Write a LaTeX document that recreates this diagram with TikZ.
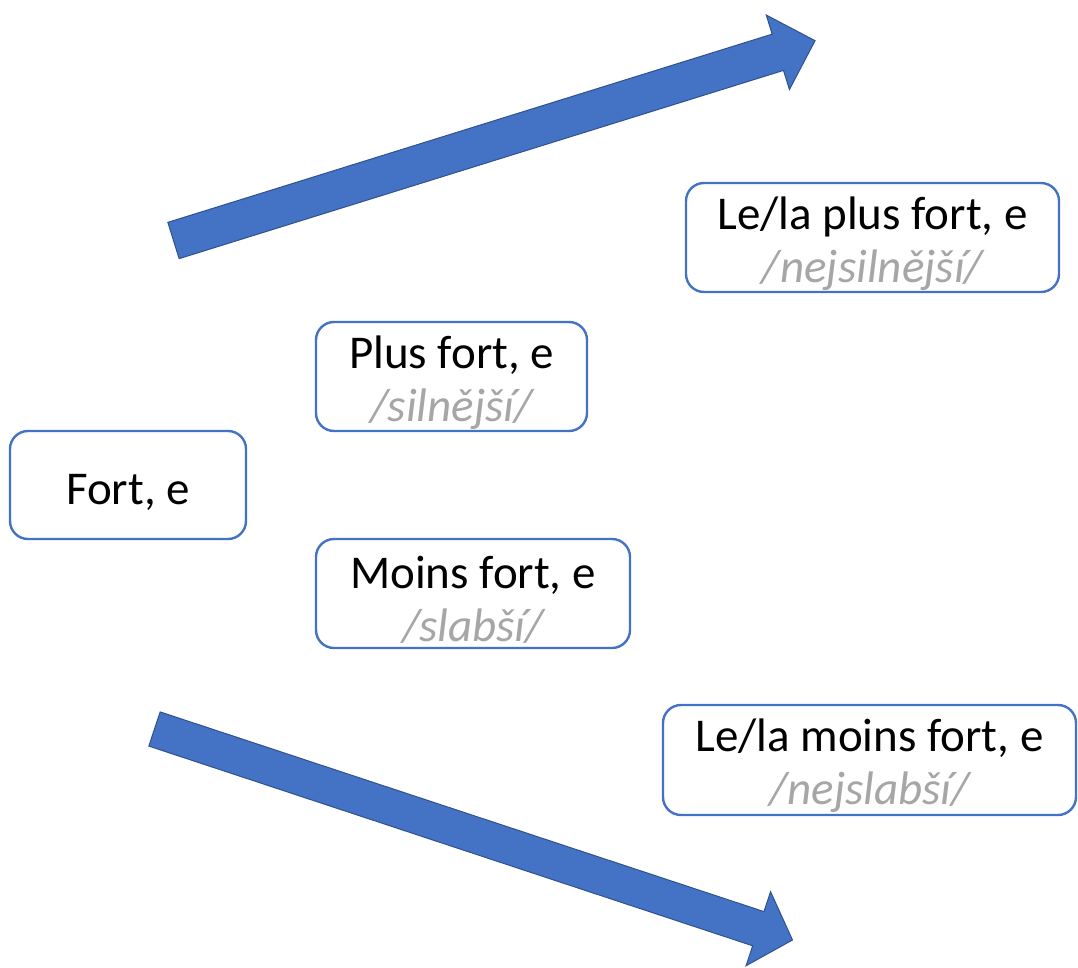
\documentclass[tikz,border=0pt]{standalone}
\usepackage{fontspec}
\setmainfont{Carlito}
\definecolor{boxblue}{HTML}{4472C4}
\definecolor{arrowedge}{HTML}{2F528F}
\definecolor{glossgray}{HTML}{A6A6A6}
\tikzset{
  termbox/.style={draw=boxblue, line width=2.4pt, rounded corners=18pt, fill=white,
    align=center, inner sep=0pt, font=\fontsize{47}{55}\selectfont},
  bigarrow/.style={fill=boxblue, draw=arrowedge, line width=1pt, line join=miter},
}
\newcommand{\gloss}[1]{\textcolor{glossgray}{\itshape #1}}
% extra room above the first line pushes the text block slightly down in its box
\newcommand{\toppad}{\rule{0pt}{45pt}}
\begin{document}
\begin{tikzpicture}[x=1pt, y=-1pt]
  \useasboundingbox (0,0) rectangle (1078,968);

  % rising arrow
  \begin{scope}[shift={(173.5,240.5)}, rotate=17.3]
    \draw[bigarrow] (0,-19) -- (633,-19) -- (633,-39) -- (672,0) -- (633,39) -- (633,19) -- (0,19) -- cycle;
  \end{scope}
  % falling arrow
  \begin{scope}[shift={(154.5,729)}, rotate=-18.3]
    \draw[bigarrow] (0,-18) -- (636,-18) -- (636,-39) -- (672,0) -- (636,39) -- (636,18) -- (0,18) -- cycle;
  \end{scope}

  % word forms
  \node[termbox, minimum width=236pt, minimum height=108pt] (fort) at (128,485) {\toppad Fort, e};
  \node[termbox, minimum width=271pt, minimum height=109pt] (plus) at (451.5,376.5)
    {\toppad Plus fort, e\\[-2pt]\gloss{/silnější/}};
  \node[termbox, minimum width=314pt, minimum height=109pt] (moins) at (473,593.5)
    {\toppad Moins fort, e\\[-2pt]\gloss{/slabší/}};
  \node[termbox, minimum width=373pt, minimum height=109pt] (leplus) at (872.5,237.5)
    {\toppad Le/la plus fort, e\\[-2pt]\gloss{/nejsilnější/}};
  \node[termbox, minimum width=413pt, minimum height=110pt] (lemoins) at (869.5,760)
    {\toppad Le/la moins fort, e\\[-2pt]\gloss{/nejslabší/}};
\end{tikzpicture}
\end{document}
